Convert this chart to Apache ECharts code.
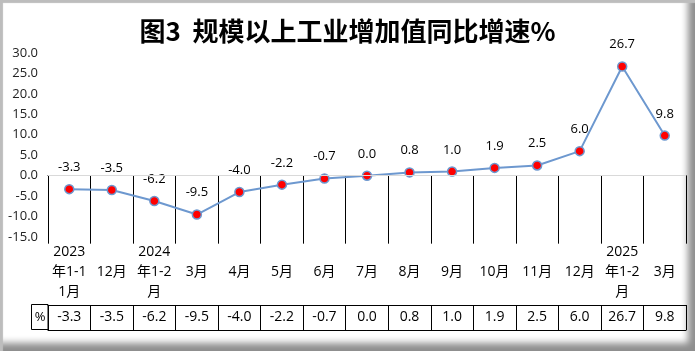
<!DOCTYPE html>
<html lang="zh">

<head>
    <meta charset="UTF-8">
    <title>规模以上工业增加值同比增速</title>
    <script src="https://cdn.jsdelivr.net/npm/echarts@6/dist/echarts.min.js"></script>
    <style>
        html, body {
            margin: 0;
            padding: 0;
            background: #fff;
        }

        .frame {
            position: absolute;
            left: 0;
            top: 0;
            width: 695px;
            height: 351px;
            background: #fff;
            box-shadow: inset 3px 3px 1px #bdbdbd, inset -10px -11px 7px -3px #8e8e8e;
        }

        #echarts {
            position: absolute;
            left: 0;
            top: 0;
            width: 695px;
            height: 351px;
        }
    </style>
</head>

<body>
    <div class="frame"></div>
    <div id="echarts"></div>
    <script>
        // 月份(唯一键) / 表头显示文字 / 同比增速(%)
        var categories = ['2023年1-11月', '2023年12月', '2024年1-2月', '2024年3月', '2024年4月', '2024年5月', '2024年6月',
            '2024年7月', '2024年8月', '2024年9月', '2024年10月', '2024年11月', '2024年12月', '2025年1-2月', '2025年3月'];
        var tickLabels = ['2023\n年1-1\n1月', '12月', '2024\n年1-2\n月', '3月', '4月', '5月', '6月',
            '7月', '8月', '9月', '10月', '11月', '12月', '2025\n年1-2\n月', '3月'];
        var values = [-3.3, -3.5, -6.2, -9.5, -4.0, -2.2, -0.7, 0.0, 0.8, 1.0, 1.9, 2.5, 6.0, 26.7, 9.8];
        var yMin = -15, yMax = 30, yStep = 5;

        var font = "'Open Sans', 'Noto Sans CJK SC', sans-serif";

        var myChart = echarts.init(document.getElementById('echarts'));
        var option = {
            animation: false,
            title: {
                text: '图3  规模以上工业增加值同比增速%',
                left: 'center',
                top: 13,
                textStyle: {
                    fontFamily: "'Noto Sans CJK SC', serif",
                    fontWeight: 'bold',
                    fontSize: 26,
                    color: '#000'
                }
            },
            grid: {
                left: 48,
                right: 9,
                top: 53,
                bottom: 114
            },
            xAxis: [{
                type: 'category',
                data: categories,
                position: 'bottom',
                axisLine: { lineStyle: { color: '#000', width: 1 } },
                axisTick: { show: true, length: 68, lineStyle: { color: '#000' } },
                axisLabel: {
                    interval: 0,
                    margin: 35,
                    verticalAlign: 'middle',
                    fontFamily: font,
                    fontSize: 14,
                    lineHeight: 20,
                    color: '#000',
                    formatter: function (v, i) { return tickLabels[i]; }
                }
            }, {
                type: 'category',
                data: categories,
                position: 'bottom',
                offset: 68,
                axisLine: { show: true, lineStyle: { color: '#000', width: 1 } },
                axisTick: { show: true, length: 25, lineStyle: { color: '#000' } },
                axisLabel: {
                    interval: 0,
                    margin: 12,
                    verticalAlign: 'middle',
                    fontFamily: font,
                    fontSize: 14,
                    color: '#000',
                    formatter: function (v, i) { return values[i].toFixed(1); }
                }
            }, {
                type: 'category',
                data: categories,
                position: 'bottom',
                offset: 93,
                axisLine: { show: true, lineStyle: { color: '#000', width: 1 } },
                axisTick: { show: false },
                axisLabel: { show: false }
            }],
            yAxis: {
                type: 'value',
                min: yMin,
                max: yMax,
                interval: yStep,
                axisLine: { show: false },
                axisTick: { show: false },
                splitLine: { show: false },
                axisLabel: {
                    margin: 10,
                    fontFamily: font,
                    fontSize: 13,
                    color: '#222',
                    formatter: function (v) { return v.toFixed(1); }
                }
            },
            graphic: [{
                type: 'rect',
                shape: { x: 31.5, y: 304.5, width: 16.5, height: 25 },
                style: { fill: 'none', stroke: '#000', lineWidth: 1 }
            }, {
                type: 'text',
                x: 40,
                y: 317,
                style: {
                    text: '%',
                    fontFamily: font,
                    fontSize: 13,
                    fill: '#000',
                    align: 'center',
                    verticalAlign: 'middle'
                }
            }],
            series: [{
                type: 'line',
                data: values,
                symbol: 'circle',
                symbolSize: 9,
                lineStyle: { color: '#6d98cf', width: 2 },
                itemStyle: { color: '#ff0000', borderColor: '#6d98cf', borderWidth: 1.5 },
                label: {
                    show: true,
                    position: 'top',
                    distance: 10,
                    fontFamily: font,
                    fontSize: 13,
                    color: '#000',
                    formatter: function (p) { return p.value.toFixed(1); }
                },
                markLine: {
                    silent: true,
                    symbol: 'none',
                    label: { show: false },
                    lineStyle: { color: '#d9d9d9', type: 'solid', width: 1 },
                    data: [{ yAxis: 0 }]
                }
            }]
        };
        myChart.setOption(option);
    </script>
</body>

</html>
